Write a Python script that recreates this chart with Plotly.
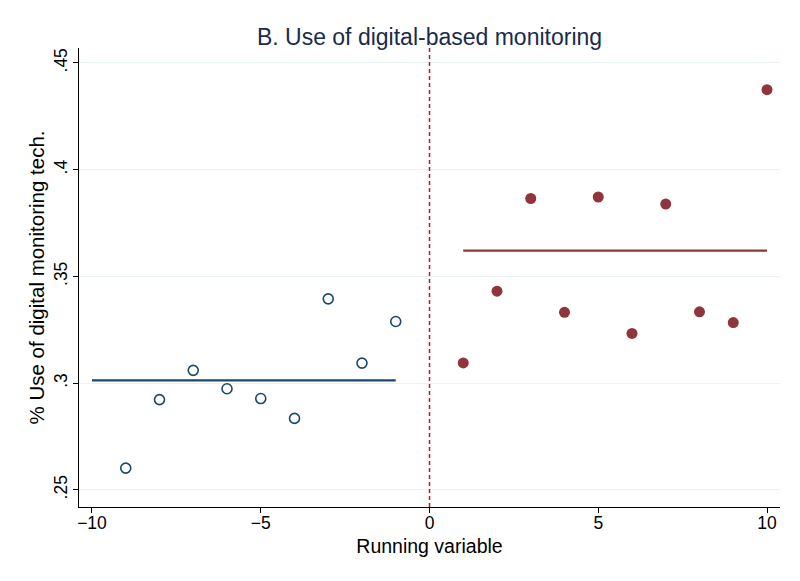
import plotly.graph_objects as go

# Data
left_x = [-9, -8, -7, -6, -5, -4, -3, -2, -1]
left_y = [0.2602, 0.2923, 0.3060, 0.2974, 0.2928, 0.2835, 0.3395, 0.3094, 0.3289]
right_x = [1, 2, 3, 4, 5, 6, 7, 8, 9, 10]
right_y = [0.3095, 0.3431, 0.3865, 0.3332, 0.3872, 0.3233, 0.3839, 0.3334, 0.3284, 0.4375]
left_fit_x = [-10, -9, -8, -7, -6, -5, -4, -3, -2, -1]
left_fit_y = [0.3013] * 10
right_fit_x = [1, 2, 3, 4, 5, 6, 7, 8, 9, 10]
right_fit_y = [0.3621] * 10
cutoff = 0
x_ticks = [-10, -5, 0, 5, 10]
y_ticks = [0.25, 0.30, 0.35, 0.40, 0.45]
y_tick_labels = [".25", ".3", ".35", ".4", ".45"]

BLUE = "#1a476f"
RED = "#90353b"

fig = go.Figure()
fig.add_trace(go.Scatter(x=left_fit_x, y=left_fit_y, mode="lines",
                         line=dict(color=BLUE, width=2.2), showlegend=False))
fig.add_trace(go.Scatter(x=right_fit_x, y=right_fit_y, mode="lines",
                         line=dict(color=RED, width=2.2), showlegend=False))
fig.add_trace(go.Scatter(x=left_x, y=left_y, mode="markers",
                         marker=dict(symbol="circle-open", size=10, color=BLUE,
                                     line=dict(width=1.6, color=BLUE)),
                         showlegend=False))
fig.add_trace(go.Scatter(x=right_x, y=right_y, mode="markers",
                         marker=dict(symbol="circle", size=11, color=RED,
                                     line=dict(width=0)),
                         showlegend=False))

fig.add_shape(type="line", xref="x", yref="paper", x0=cutoff, x1=cutoff, y0=0, y1=1,
              line=dict(color="#c8102e", width=1.5, dash="4px,3px"), layer="above")

fig.update_layout(
    width=800, height=581,
    paper_bgcolor="white", plot_bgcolor="white",
    margin=dict(l=71, r=28, t=40, b=82, autoexpand=False),
    font=dict(family="Liberation Sans, Arial, sans-serif", color="#000000"),
    title=dict(text="B. Use of digital-based monitoring", xref="paper", x=0.5,
               xanchor="center", y=1 - 29 / 581, yanchor="middle",
               font=dict(size=23, color="#1a2b4c")),
)
fig.update_xaxes(range=[-10.385, 10.385], tickvals=x_ticks, automargin=False,
                 ticks="outside", ticklen=5, tickcolor="#000", tickwidth=1,
                 ticklabelstandoff=-5,
                 showline=True, linecolor="#000", linewidth=1,
                 showgrid=False, zeroline=False,
                 tickfont=dict(size=17.5),
                 title=dict(text="Running variable", font=dict(size=19.5), standoff=7))
fig.update_yaxes(range=[0.242, 0.457], tickvals=y_ticks, ticktext=y_tick_labels,
                 tickangle=-90, automargin=False,
                 ticks="outside", ticklen=5, tickcolor="#000", tickwidth=1,
                 ticklabelstandoff=-1,
                 showline=True, linecolor="#000", linewidth=1,
                 showgrid=True, gridcolor="#eaf2f3", gridwidth=1, zeroline=False,
                 tickfont=dict(size=17.5),
                 title=dict(text="% Use of digital monitoring tech.", font=dict(size=20.5),
                            standoff=0))

fig.write_html("out.html")
